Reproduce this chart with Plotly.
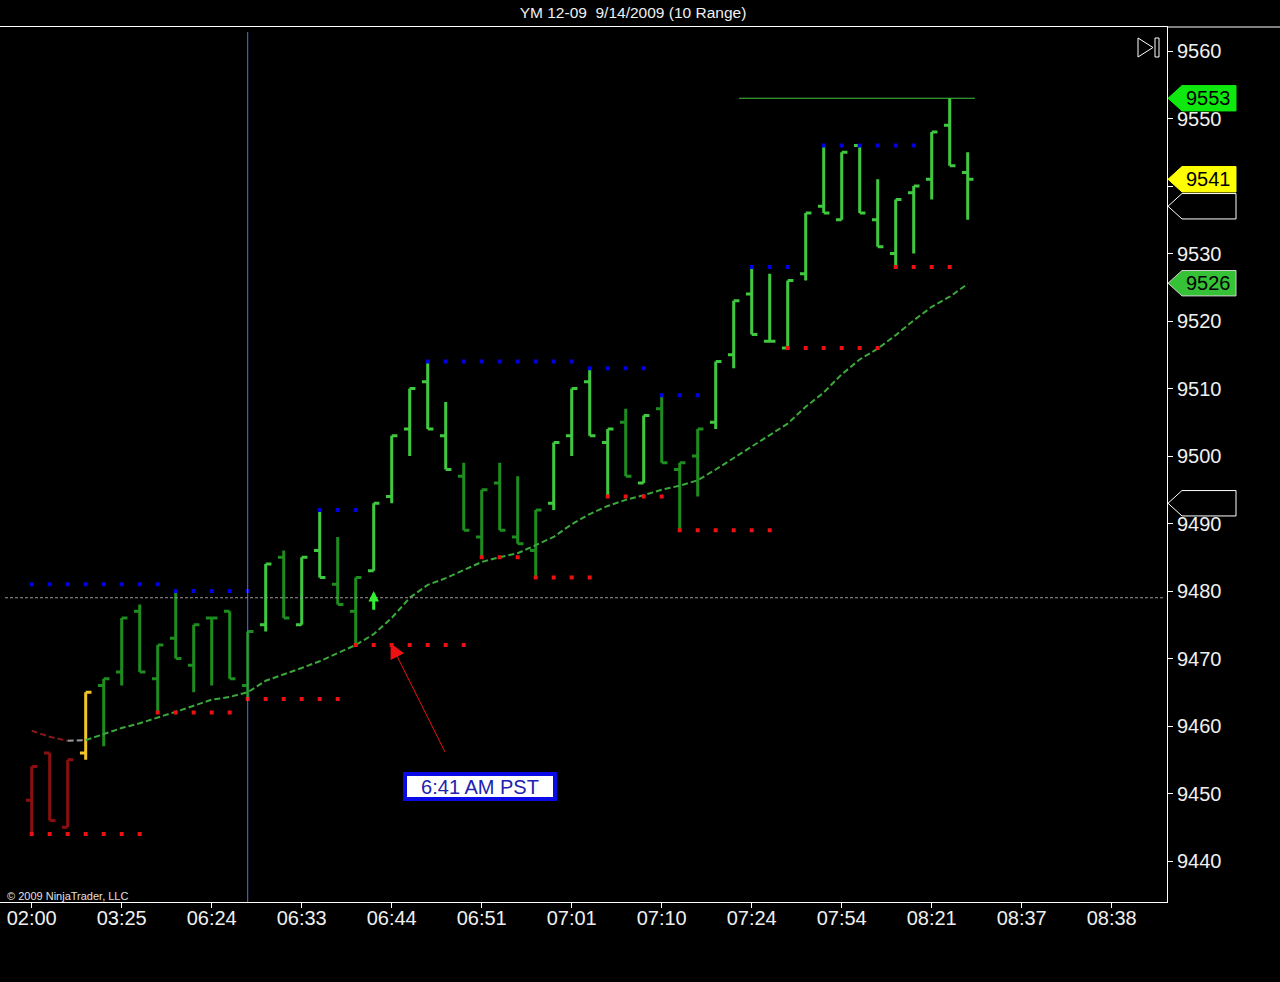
import plotly.graph_objects as go

# YM 12-09, 10-range bars, 9/14/2009
bar_open = [9449, 9456, 9445, 9456, 9466, 9468, 9477, 9467, 9473, 9469,
            9476, 9477, 9466, 9475, 9485, 9475, 9486, 9481, 9477, 9483,
            9494, 9504, 9511, 9503, 9497, 9488, 9496, 9488, 9486, 9493,
            9503, 9511, 9502, 9505, 9496, 9507, 9498, 9500, 9505, 9515,
            9524, 9517, 9516, 9527, 9537, 9535, 9546, 9535, 9530, 9539,
            9541, 9549, 9542]
bar_high = [9454, 9456, 9455, 9465, 9467, 9476, 9478, 9472, 9480, 9475,
            9476, 9477, 9474, 9484, 9486, 9485, 9492, 9488, 9482, 9493,
            9503, 9510, 9514, 9508, 9499, 9495, 9499, 9497, 9492, 9502,
            9510, 9513, 9504, 9507, 9506, 9509, 9499, 9504, 9514, 9523,
            9528, 9527, 9526, 9536, 9546, 9545, 9546, 9541, 9538, 9540,
            9548, 9553, 9545]
bar_low = [9444, 9446, 9445, 9455, 9457, 9466, 9468, 9462, 9470, 9465,
           9466, 9467, 9464, 9474, 9476, 9475, 9482, 9478, 9472, 9483,
           9493, 9500, 9504, 9498, 9489, 9485, 9489, 9487, 9482, 9492,
           9500, 9503, 9494, 9497, 9496, 9499, 9489, 9494, 9504, 9513,
           9518, 9517, 9516, 9526, 9536, 9535, 9536, 9531, 9528, 9530,
           9538, 9543, 9535]
bar_close = [9454, 9446, 9455, 9465, 9467, 9476, 9468, 9472, 9470, 9475,
             9476, 9467, 9474, 9484, 9476, 9485, 9482, 9478, 9482, 9493,
             9503, 9510, 9504, 9498, 9489, 9495, 9489, 9487, 9492, 9502,
             9510, 9503, 9504, 9497, 9506, 9499, 9499, 9504, 9514, 9523,
             9518, 9517, 9526, 9536, 9536, 9545, 9536, 9531, 9538, 9540,
             9548, 9543, 9541]
# r = weak, y = turn, d = dark green, l = light green
bar_tone = list("rrry" "ddddddddd" "l" "d" "ll" "dd" "lllll" "ddddd"
                "llll" "d" "l" "ddd" "lllllllllllllll")

moving_avg = [9459.3, 9458.4, 9457.8, 9457.9, 9458.8, 9459.7, 9460.4, 9461.2,
              9462.1, 9463.0, 9463.9, 9464.3, 9465.0, 9466.7, 9467.6, 9468.6,
              9469.6, 9470.8, 9472.0, 9473.6, 9476.0, 9479.0, 9480.9, 9481.9,
              9483.1, 9484.3, 9485.0, 9485.6, 9486.8, 9488.0, 9489.9, 9491.4,
              9492.6, 9493.5, 9494.2, 9495.0, 9495.6, 9496.4, 9498.0, 9499.7,
              9501.4, 9503.0, 9504.8, 9507.3, 9509.4, 9512.1, 9514.3, 9515.9,
              9517.9, 9520.1, 9522.1, 9523.6, 9525.5]

# swing high (blue) / swing low (red) dotted levels
res_first = [0, 8, 16, 22, 31, 35, 40, 44]
res_last = [7, 12, 18, 30, 34, 37, 42, 49]
res_level = [9481, 9480, 9492, 9514, 9513, 9509, 9528, 9546]
sup_first = [0, 7, 12, 18, 25, 28, 32, 36, 42, 48]
sup_last = [6, 11, 17, 24, 27, 31, 35, 41, 47, 51]
sup_level = [9444, 9462, 9464, 9472, 9485, 9482, 9494, 9489, 9516, 9528]

hod_level = 9553
hod_from, hod_to = 39.3, 52.4
ref_line = 9479
marker_bar = 12

tick_pos = [0, 5, 10, 15, 20, 25, 30, 35, 40, 45, 50, 55, 60]
tick_text = ["02:00", "03:25", "06:24", "06:33", "06:44", "06:51", "07:01",
             "07:10", "07:24", "07:54", "08:21", "08:37", "08:38"]
price_ticks = [9440, 9450, 9460, 9470, 9480, 9490, 9500, 9510, 9520, 9530,
               9540, 9550, 9560]
# 9540 sits under the last-price tag, so its label is hidden
price_text = ["9440", "9450", "9460", "9470", "9480", "9490", "9500", "9510",
              "9520", "9530", "", "9550", "9560"]

tag_price = [9553, 9541, 9537, 9525.6, 9493]
tag_text = ["9553", "9541", "", "9526", ""]
tag_fill = ["#0ee80e", "#ffff00", "#000000", "#36c236", "#000000"]
tag_edge = ["#0ee80e", "#ffff00", "#ffffff", "#d0d0d0", "#ffffff"]

FONT = "Liberation Sans, Arial, sans-serif"
tone_color = {"r": "#8a1010", "y": "#f2c62a", "d": "#1e8c1e", "l": "#40c840"}

fig = go.Figure()

for tone, col in tone_color.items():
    idx = [i for i, t in enumerate(bar_tone) if t == tone]
    fig.add_trace(go.Ohlc(
        x=idx,
        open=[bar_open[i] for i in idx],
        high=[bar_high[i] for i in idx],
        low=[bar_low[i] for i in idx],
        close=[bar_close[i] for i in idx],
        increasing=dict(line=dict(color=col, width=3)),
        decreasing=dict(line=dict(color=col, width=3)),
        tickwidth=0.32, showlegend=False, hoverinfo="skip"))

# moving average, coloured by state
fig.add_trace(go.Scatter(x=list(range(0, 3)), y=moving_avg[0:3], mode="lines",
                         line=dict(color="#8a1a1a", width=2, dash="6px,3px"),
                         showlegend=False, hoverinfo="skip"))
fig.add_trace(go.Scatter(x=list(range(2, 4)), y=moving_avg[2:4], mode="lines",
                         line=dict(color="#9a9a9a", width=2, dash="6px,3px"),
                         showlegend=False, hoverinfo="skip"))
fig.add_trace(go.Scatter(x=list(range(3, len(moving_avg))), y=moving_avg[3:],
                         mode="lines",
                         line=dict(color="#3aa83a", width=2, dash="6px,3px"),
                         showlegend=False, hoverinfo="skip"))


def dots(first, last, level):
    xs, ys = [], []
    for a, b, v in zip(first, last, level):
        for i in range(a, b + 1):
            xs.append(i)
            ys.append(v)
    return xs, ys


rx, ry = dots(res_first, res_last, res_level)
sx, sy = dots(sup_first, sup_last, sup_level)
fig.add_trace(go.Scatter(x=rx, y=ry, mode="markers",
                         marker=dict(symbol="square", size=4, color="#0000e0",
                                     line=dict(width=0)),
                         showlegend=False, hoverinfo="skip"))
fig.add_trace(go.Scatter(x=sx, y=sy, mode="markers",
                         marker=dict(symbol="square", size=4, color="#ee1111",
                                     line=dict(width=0)),
                         showlegend=False, hoverinfo="skip"))

# high of day line
fig.add_trace(go.Scatter(x=[hod_from, hod_to], y=[hod_level, hod_level],
                         mode="lines", line=dict(color="#3cc43c", width=1),
                         showlegend=False, hoverinfo="skip"))

PW = 1167.0   # plot width in px
PH = 875.0    # plot height in px


def px_x(p):
    return p / PW


def px_y(p):
    return 1 - (p - 27) / PH


shapes = [
    dict(type="line", xref="x", yref="paper", x0=marker_bar, x1=marker_bar,
         y0=0, y1=px_y(32), line=dict(color="#5a6cf0", width=1)),
    dict(type="line", xref="paper", yref="y", x0=px_x(5), x1=px_x(1165),
         y0=ref_line, y1=ref_line,
         line=dict(color="#9a9a9a", width=1, dash="3px,2px")),
    dict(type="line", xref="paper", yref="paper", x0=1, x1=px_x(1280),
         y0=1, y1=1, line=dict(color="#ffffff", width=1)),
    # "go to last bar" icon
    dict(type="path", xref="paper", yref="paper",
         path="M %f,%f L %f,%f L %f,%f Z" % (px_x(1138), px_y(38), px_x(1138),
                                             px_y(57), px_x(1153), px_y(47.5)),
         line=dict(color="#ffffff", width=1)),
    dict(type="rect", xref="paper", yref="paper", x0=px_x(1155), x1=px_x(1159),
         y0=px_y(57), y1=px_y(38), line=dict(color="#ffffff", width=1)),
]

half = 12.7 / 6.75
annotations = []
for p, t, f, e in zip(tag_price, tag_text, tag_fill, tag_edge):
    shapes.append(dict(
        type="path", xref="paper", yref="y",
        path="M %f,%f L %f,%f L %f,%f L %f,%f L %f,%f Z" % (
            px_x(1168), p, px_x(1182), p + half, px_x(1236), p + half,
            px_x(1236), p - half, px_x(1182), p - half),
        fillcolor=f, line=dict(color=e, width=1)))
    if t:
        annotations.append(dict(xref="paper", yref="y", x=px_x(1208), y=p,
                                text=t, showarrow=False, xanchor="center",
                                yanchor="middle",
                                font=dict(family=FONT, size=20, color="#000000")))

annotations += [
    dict(x=19.94, y=9472.25, ax=23.0, ay=9455.95, axref="x", ayref="y",
         xref="x", yref="y", text="", showarrow=True, arrowhead=2,
         arrowsize=3, arrowwidth=1, arrowcolor="#ee1111"),
    dict(x=19, y=9480, ax=19, ay=9477, axref="x", ayref="y", xref="x",
         yref="y", text="", showarrow=True, arrowhead=2, arrowsize=0.7,
         arrowwidth=3, arrowcolor="#33ee33"),
    dict(x=24.92, y=9451.1, xref="x", yref="y", text="6:41 AM PST",
         showarrow=False, font=dict(family=FONT, size=20, color="#2222b0"),
         bgcolor="#ffffff", bordercolor="#0a0ae6", borderwidth=4, borderpad=0,
         width=146, height=21),
    dict(xref="paper", yref="paper", x=px_x(5), y=px_y(896),
         xanchor="left", yanchor="middle", showarrow=False,
         text="© 2009 NinjaTrader, LLC",
         font=dict(family=FONT, size=11, color="#e0e0e0")),
]

fig.update_layout(
    width=1280, height=982,
    margin=dict(l=0, r=113, t=27, b=80),
    paper_bgcolor="#000000", plot_bgcolor="#000000",
    title=dict(text="YM 12-09  9/14/2009 (10 Range)", x=633 / 1280,
               y=1 - 13 / 982, xanchor="center", yanchor="middle",
               font=dict(family=FONT, size=15.5, color="#f0f0f0")),
    xaxis=dict(range=[-31.7 / 18, (1167 - 31.7) / 18],
               tickvals=tick_pos, ticktext=tick_text,
               ticks="outside", ticklen=5, tickcolor="#ffffff",
               ticklabelstandoff=-7,
               showline=True, linecolor="#ffffff", linewidth=1, mirror=True,
               showgrid=False, zeroline=False, rangeslider=dict(visible=False),
               tickfont=dict(family=FONT, size=20, color="#f0f0f0")),
    yaxis=dict(range=[9560 - 875 / 6.75 + 24 / 6.75, 9560 + 24 / 6.75],
               side="right", tickvals=price_ticks, ticktext=price_text,
               ticks="outside", ticklen=5, tickcolor="#ffffff",
               showline=True, linecolor="#ffffff", linewidth=1,
               showgrid=False, zeroline=False,
               tickfont=dict(family=FONT, size=20, color="#f0f0f0")),
    shapes=shapes, annotations=annotations,
    showlegend=False,
)

fig.write_html("out.html", config={"displayModeBar": False},
               post_script="document.body.style.margin='0px';"
                           "document.body.style.overflow='hidden';")
